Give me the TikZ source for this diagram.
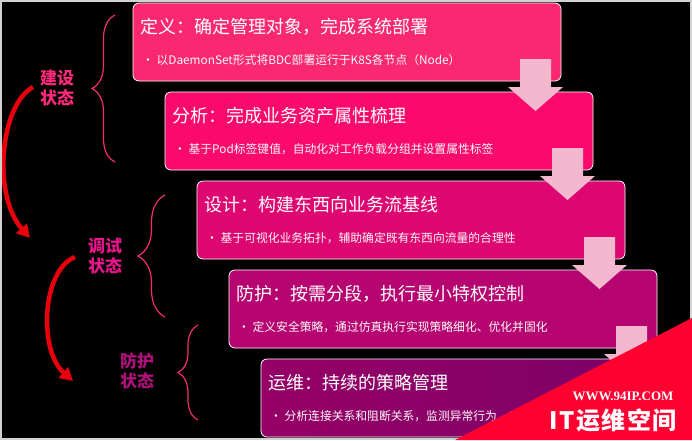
\documentclass[tikz,border=0pt]{standalone}
\usepackage{fontspec}
\setmainfont{Noto Sans CJK SC}
\newfontfamily\wmfont{Liberation Serif}
\usepackage{tikz}
\usetikzlibrary{positioning, arrows.meta, decorations.pathreplacing}

\definecolor{stageA}{RGB}{250,40,112}
\definecolor{stageB}{RGB}{250,10,108}
\definecolor{stageC}{RGB}{222,6,112}
\definecolor{stageD}{RGB}{182,5,112}
\definecolor{stageE}{RGB}{150,0,102}
\definecolor{stageF}{RGB}{122,0,104}
\definecolor{flowpink}{RGB}{244,184,206}
\definecolor{bracepink}{RGB}{240,45,110}
\definecolor{phaseA}{RGB}{255,42,122}
\definecolor{phaseB}{RGB}{232,21,138}
\definecolor{phaseC}{RGB}{176,16,122}
\definecolor{turnred}{RGB}{232,0,12}
\definecolor{markred}{RGB}{255,0,48}

\begin{document}
\begin{tikzpicture}[
    x=1pt, y=-1pt,
    stagebox/.style={draw=white, line width=0.8pt, rounded corners=6pt, minimum width=428pt, minimum height=78pt, outer sep=0pt, inner sep=0pt, anchor=north west},
    headline/.style={anchor=west, text=white, inner sep=0pt, font=\fontsize{18}{20}\selectfont},
    detail/.style={anchor=west, text=white!92!pink, inner sep=0pt, font=\fontsize{11.8}{14}\selectfont},
    phase/.style={align=center, inner sep=0pt, font=\bfseries\fontsize{17}{20.5}\selectfont},
    flowarrow/.style={fill=flowpink},
    stagebrace/.style={draw=bracepink, line width=1.2pt, decorate},
    turn/.style={draw=turnred, line width=4.5pt, -{Triangle[width=14pt,length=13pt]}}
]
    \useasboundingbox (0,0) rectangle (692,440);
    \fill[black] (0,0) rectangle (692,440);

    % stages
    \node[stagebox, fill=stageA] (b1) at (133,3) {};
    \node[stagebox, fill=stageB, below right=89pt and 32pt of b1.north west] (b2) {};
    \node[stagebox, fill=stageC, below right=89pt and 32pt of b2.north west] (b3) {};
    \node[stagebox, fill=stageD, below right=89pt and 32pt of b3.north west] (b4) {};
    \node[stagebox, left color=stageE, right color=stageF, below right=89pt and 32pt of b4.north west] (b5) {};

    % flow arrows between stages
    \fill[flowarrow] ([shift={(387,56)}]b1.north west) -- ++(31,0) -- ++(0,28) -- ++(12,0) -- ++(-27.5,24) -- ++(-27.5,-24) -- ++(12,0) -- cycle;
    \fill[flowarrow] ([shift={(387,56)}]b2.north west) -- ++(31,0) -- ++(0,28) -- ++(12,0) -- ++(-27.5,24) -- ++(-27.5,-24) -- ++(12,0) -- cycle;
    \fill[flowarrow] ([shift={(387,56)}]b3.north west) -- ++(31,0) -- ++(0,28) -- ++(12,0) -- ++(-27.5,24) -- ++(-27.5,-24) -- ++(12,0) -- cycle;
    \fill[flowarrow] ([shift={(387,56)}]b4.north west) -- ++(31,0) -- ++(0,28) -- ++(12,0) -- ++(-27.5,24) -- ++(-27.5,-24) -- ++(12,0) -- cycle;

    \node[headline] (h1) at ([shift={(7,24)}]b1.north west) {定义：确定管理对象，完成系统部署};
    \node[detail] (d1) at ([shift={(9,57)}]b1.north west) {• 以DaemonSet形式将BDC部署运行于K8S各节点（Node）};
    \node[headline] (h2) at ([shift={(7,24)}]b2.north west) {分析：完成业务资产属性梳理};
    \node[detail] (d2) at ([shift={(9,57)}]b2.north west) {• 基于Pod标签键值，自动化对工作负载分组并设置属性标签};
    \node[headline] (h3) at ([shift={(7,24)}]b3.north west) {设计：构建东西向业务流基线};
    \node[detail] (d3) at ([shift={(9,57)}]b3.north west) {• 基于可视化业务拓扑，辅助确定既有东西向流量的合理性};
    \node[headline] (h4) at ([shift={(7,24)}]b4.north west) {防护：按需分段，执行最小特权控制};
    \node[detail] (d4) at ([shift={(9,57)}]b4.north west) {• 定义安全策略，通过仿真执行实现策略细化、优化并固化};
    \node[headline] (h5) at ([shift={(7,24)}]b5.north west) {运维：持续的策略管理};
    \node[detail] (d5) at ([shift={(9,57)}]b5.north west) {• 分析连接关系和阻断关系，监测异常行为，实};

    % phases
    \node[phase, text=phaseA] (p1) at (57,88) {建设\\状态};
    \node[phase, text=phaseB] (p2) at (105,256) {调试\\状态};
    \node[phase, text=phaseC] (p3) at (137,371) {防护\\状态};

    \coordinate (k1a) at (115,162);
    \coordinate (k1b) at (115,15);
    \coordinate (k2a) at (165,317);
    \coordinate (k2b) at (165,195);
    \coordinate (k3a) at (198,420);
    \coordinate (k3b) at (198,325);
    \draw[stagebrace, decoration={brace, amplitude=23pt}] (k1a) -- (k1b);
    \draw[stagebrace, decoration={brace, amplitude=27pt}] (k2a) -- (k2b);
    \draw[stagebrace, decoration={brace, amplitude=20pt}] (k3a) -- (k3b);

    \coordinate (t1s) at (33,87);
    \coordinate (t1e) at (30,238);
    \coordinate (t2s) at (75,257);
    \coordinate (t2e) at (73,381);
    \draw[turn] (t1s) .. controls (0,105) and (-8,195) .. (t1e);
    \draw[turn] (t2s) .. controls (42,270) and (38,350) .. (t2e);

    \draw[gray!35, line width=2pt] (1,1) rectangle (691,439);

    % site mark
    \fill[markred] (455,440) -- (692,318) -- (692,440) -- cycle;
    \node[font=\wmfont\bfseries\fontsize{13}{15}\selectfont, text=white] (wm1) at (623,396) {WWW.94IP.COM};
    \node[font=\bfseries\fontsize{24}{28}\selectfont, text=white, inner sep=0pt] (wm2) at (613,420) {I\kern1.5pt T\kern1.5pt 运\kern1.5pt 维\kern1.5pt 空\kern1.5pt 间};
\end{tikzpicture}
\end{document}
